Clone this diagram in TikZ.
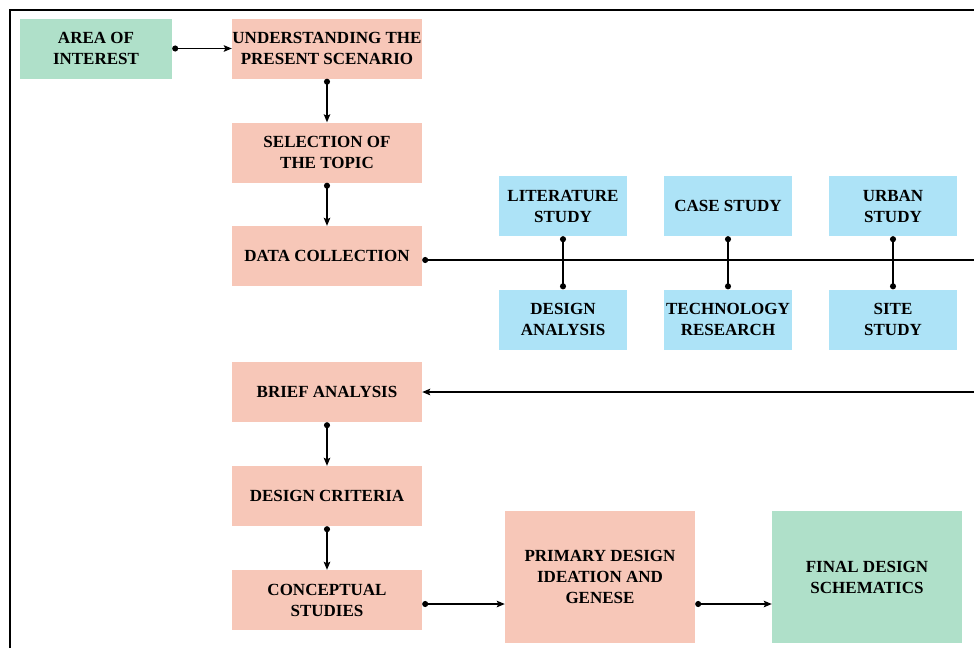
\documentclass[tikz,border=0pt]{standalone}
\usepackage{fontspec}
\setmainfont{Liberation Serif}
\usetikzlibrary{arrows.meta}
\definecolor{salmon}{HTML}{F7C7B8}
\definecolor{mint}{HTML}{AFE0C9}
\definecolor{sky}{HTML}{ADE3F7}
\tikzset{
  box/.style={rectangle, inner sep=0pt, align=center, text=black,
    font=\fontsize{17}{21}\selectfont\bfseries},
  stage/.style={box, fill=salmon, minimum width=190pt, minimum height=60pt},
  start/.style={box, fill=mint, minimum width=152pt, minimum height=60pt},
  study/.style={box, fill=sky, minimum width=128pt, minimum height=60pt},
  big/.style={box, minimum width=190pt, minimum height=132pt},
  dot/.tip={Circle[length=6pt]},
  head/.tip={Stealth[length=8pt,width=6.5pt,inset=1.5pt]},
  conn/.style={line width=1.3pt, dot-head},
  link/.style={line width=1.6pt, dot-dot},
  plain/.style={line width=1.3pt},
  frame/.style={line width=1.3pt}
}
\begin{document}
\begin{tikzpicture}[x=1pt,y=-1pt]
\useasboundingbox (0,0) rectangle (974,648);
% outer frame (top and left edges)
\coordinate (fa) at (10,648);
\coordinate (fb) at (10,10);
\coordinate (fc) at (974,10);
\draw[frame] (fa) -- (fb) -- (fc);

% left column of stages
\node[start] (aoi) at (96,48.5) {AREA OF\\INTEREST};
\node[stage] (und) at (327,48.5) {UNDERSTANDING THE\\PRESENT SCENARIO};
\node[stage] (sel) at (327,152.5) {SELECTION OF\\THE TOPIC};
\node[stage] (dc) at (327,256) {DATA COLLECTION};
\node[stage] (ba) at (327,392) {BRIEF ANALYSIS};
\node[stage] (dcr) at (327,496) {DESIGN CRITERIA};
\node[stage] (cs) at (327,600) {CONCEPTUAL\\STUDIES};

% studies
\node[study] (lit) at (563,206) {LITERATURE\\STUDY};
\node[study] (case) at (728,206) {CASE STUDY};
\node[study] (urb) at (893,206) {URBAN\\STUDY};
\node[study] (da) at (563,319.5) {DESIGN\\ANALYSIS};
\node[study] (tech) at (728,319.5) {TECHNOLOGY\\RESEARCH};
\node[study] (site) at (893,319.5) {SITE\\STUDY};

% design outcome
\node[big, fill=salmon] (pd) at (600,577) {PRIMARY DESIGN\\IDEATION AND\\GENESE};
\node[big, fill=mint] (fd) at (867,577) {FINAL DESIGN\\SCHEMATICS};

% flow connectors
\draw[conn] (aoi.east) -- (und.west);
\draw[conn] (und.south) -- (sel.north);
\draw[conn] (sel.south) -- (dc.north);
\draw[conn] (ba.south) -- (dcr.north);
\draw[conn] (dcr.south) -- (cs.north);

% data collection bus line
\coordinate (dcout) at ([yshift=-4pt]dc.east);
\coordinate (busend) at (974,260);
\draw[plain, dot-] (dcout) -- (busend);
\draw[link] (lit.south) -- (da.north);
\draw[link] (case.south) -- (tech.north);
\draw[link] (urb.south) -- (site.north);

% return line into brief analysis
\coordinate (retin) at (974,392);
\draw[plain, -head] (retin) -- (ba.east);

% conceptual studies to final design
\coordinate (csout) at ([yshift=-4pt]cs.east);
\draw[conn] (csout) -- (csout -| pd.west);
\draw[conn] (csout -| pd.east) -- (csout -| fd.west);
\end{tikzpicture}
\end{document}
